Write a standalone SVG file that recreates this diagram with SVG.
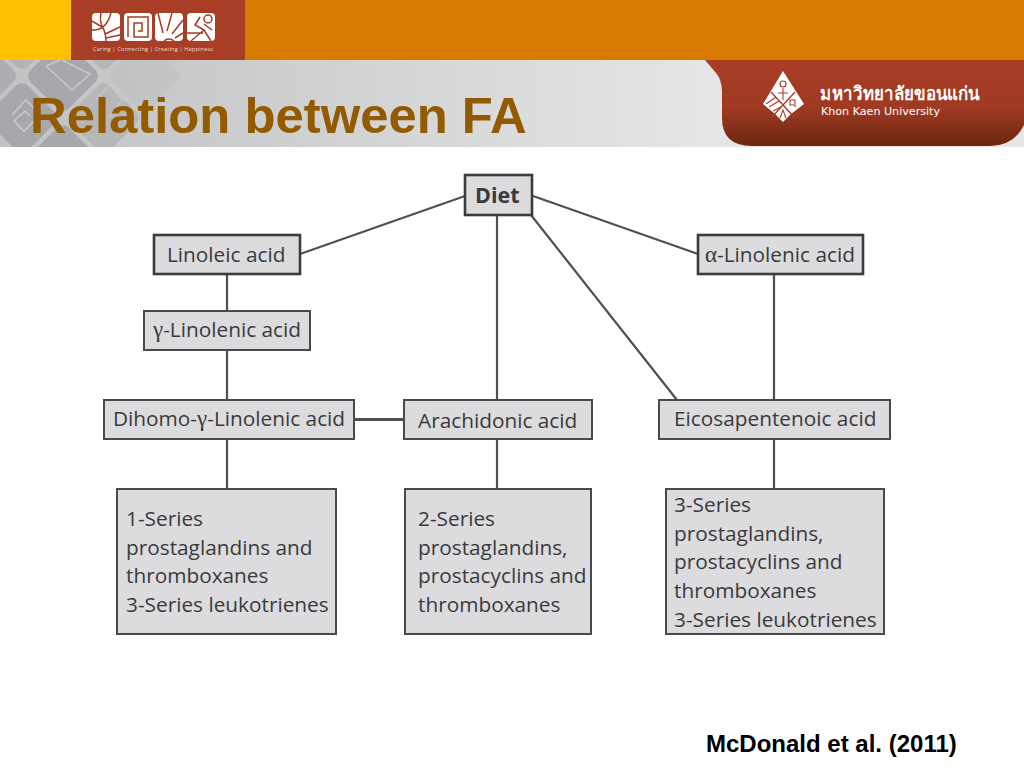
<svg xmlns="http://www.w3.org/2000/svg" width="1024" height="768" viewBox="0 0 1024 768">
<style>
.box{fill:#dcdcde;stroke:#4a4a4c;stroke-width:2}
.hv{stroke:#3c3c3e;stroke-width:2.6}
.lbl{font-family:"Open Sans","Noto Sans",sans-serif;font-size:20.8px;fill:#3a3a3c}
.gk{font-family:"Liberation Serif",serif;font-size:23px}
.c{stroke:#505052;stroke-width:2.2;fill:none}
.w{fill:#fff}
.r2{stroke:#a63c24;stroke-width:1.5;fill:none}
.tile{fill:#a6a8ab}
.p{stroke:#c8c9ca;stroke-width:1.6;fill:none}
</style>
<defs>
<linearGradient id="band" x1="0" x2="1" y1="0" y2="0"><stop offset="0" stop-color="#c0c2c3"/><stop offset=".2" stop-color="#cacbcc"/><stop offset=".7" stop-color="#e6e6e6"/><stop offset="1" stop-color="#e6e6e6"/></linearGradient>
<linearGradient id="tab" x1="0" x2="0" y1="0" y2="1"><stop offset="0" stop-color="#a83d26"/><stop offset=".55" stop-color="#a03a22"/><stop offset="1" stop-color="#6c2610"/></linearGradient>
<clipPath id="bandclip"><rect x="0" y="60" width="180" height="87"/></clipPath>
</defs>
<rect width="1024" height="768" fill="#fff"/>
<g id="header">
<rect x="0" y="0" width="1024" height="60" fill="#d67a00"/>
<rect x="0" y="0" width="71" height="60" fill="#ffc000"/>
<rect x="71" y="0" width="174" height="60" fill="#a83e25"/>
<rect x="0" y="60" width="1024" height="87" fill="url(#band)"/>
<g clip-path="url(#bandclip)">
<rect class="tile" x="-27" y="-27" width="54" height="54" rx="8" transform="translate(63 76) rotate(45)"/>
<rect class="tile" x="-27" y="-27" width="54" height="54" rx="8" transform="translate(22 118) rotate(45)"/>
<rect class="tile" x="-27" y="-27" width="54" height="54" rx="8" transform="translate(63 160) rotate(45)"/>
<rect class="tile" x="-27" y="-27" width="54" height="54" rx="8" transform="translate(-19 76) rotate(45)" opacity=".8"/>
<rect class="tile" x="-27" y="-27" width="54" height="54" rx="8" transform="translate(104 118) rotate(45)" opacity=".5"/>
<rect class="tile" x="-27" y="-27" width="54" height="54" rx="8" transform="translate(22 34) rotate(45)" opacity=".6"/>
<rect class="tile" x="-27" y="-27" width="54" height="54" rx="8" transform="translate(104 34) rotate(45)" opacity=".5"/>
<rect class="tile" x="-27" y="-27" width="54" height="54" rx="8" transform="translate(145 76) rotate(45)" opacity=".12"/>
<path class="p" d="M46 66L72 90L90 74L62 60M46 66L60 60"/>
<path class="p" d="M12 115L26 100L40 115L24 131L14 121L25 111L30 116"/>
<path class="p" d="M130 70L148 88L132 106M140 68L158 88L142 108" stroke-opacity=".6"/>
<path class="p" d="M96 100L110 84L122 100L108 118" stroke-opacity=".8"/>
</g>
<rect x="92" y="13" width="28" height="28" rx="4" class="w"/>
<rect x="124" y="13" width="28" height="28" rx="4" class="w"/>
<rect x="155" y="13" width="28" height="28" rx="4" class="w"/>
<rect x="187" y="13" width="28" height="28" rx="4" class="w"/>
<path class="r2" d="M92 30Q106 31 111 13M101 13Q99 22 104 30Q106 36 106 41M92 21L102 27M120 27L105 34M120 35L106 38"/>
<path class="r2" d="M128 37V17H148V37H134V23H142V31H138"/>
<path class="r2" d="M164 41A7 7 0 0 1 174 41M163 33L158 13M167 31L172 13M172 34L183 20M175 38L183 33"/>
<path class="r2" d="M187 33H203M191 41L204 30L195 25L200 17M204 30L211 41M204 24L212 30"/>
<circle cx="208" cy="19" r="4" fill="none" stroke="#a63c24" stroke-width="1.5"/>
<text x="93" y="51" font-family="'Open Sans',sans-serif" font-size="5.6" fill="#f3dcd4" textLength="120">Caring | Connecting | Creating | Happiness</text>
<path d="M705 60H1024V125Q1014 146 990 146H752Q722 146 722 118V92Q722 80 716 73Z" fill="url(#tab)"/>
<path d="M783 71L804 104L791 114L783 122L775 114L763 104Z" class="w"/>
<path d="M771 92L783 105L795 92M783 105L772 117M783 105L794 117" fill="none" stroke="#a63c24" stroke-width="1.4"/>
<circle cx="783" cy="84" r="3" fill="none" stroke="#a63c24" stroke-width="1.2"/>
<path d="M778 93H788M783 88V100M766 104L776 97M769 107L779 101M773 111L781 107M795 107V100H790V105H794M780 118L783 110L786 118" fill="none" stroke="#a63c24" stroke-width="1.1"/>
<text x="820" y="100" font-family="'Noto Sans','Noto Sans CJK SC',sans-serif" font-size="19" font-weight="700" fill="#fff" textLength="160" lengthAdjust="spacingAndGlyphs">มหาวิทยาลัยขอนแก่น</text>
<text x="821" y="115" font-family="'DejaVu Sans',sans-serif" font-size="11" fill="#fff" textLength="119" lengthAdjust="spacingAndGlyphs">Khon Kaen University</text>
</g>
<text id="title" x="30" y="133" font-family="'Liberation Sans',Arial,sans-serif" font-weight="700" font-size="50.8" fill="#935b00">Relation between FA</text>
<g id="connectors">
<path class="c" d="M465 196L300 254M533 196L698 254M497 215V400M531 215L677 400M227 274V311M227 350V400M227 439V489M497 439V489M774 274V400M774 439V489"/>
<path class="c" style="stroke-width:2.8" d="M354 419.500H404"/>
</g>
<g id="diet"><rect class="box hv" x="465" y="175" width="67" height="40"/><text x="475" y="203" class="lbl" style="font-size:21.5px" font-weight="700">Diet</text></g>
<g id="linoleic"><rect class="box hv" x="154" y="235" width="146" height="39"/><text x="167" y="262" class="lbl">Linoleic acid</text></g>
<g id="gamma"><rect class="box" x="144" y="311" width="166" height="39"/><text x="153" y="337" class="lbl"><tspan class="gk">γ</tspan>-Linolenic acid</text></g>
<g id="dihomo"><rect class="box" x="104" y="400" width="250" height="39"/><text x="113" y="426" class="lbl">Dihomo-<tspan class="gk">γ</tspan>-Linolenic acid</text></g>
<g id="arachidonic"><rect class="box" x="404" y="400" width="188" height="39"/><text x="418" y="428" class="lbl">Arachidonic acid</text></g>
<g id="alpha"><rect class="box hv" x="698" y="235" width="165" height="39"/><text x="705" y="262" class="lbl"><tspan class="gk">α</tspan>-Linolenic acid</text></g>
<g id="epa"><rect class="box" x="659" y="400" width="231" height="39"/><text x="674" y="426" class="lbl">Eicosapentenoic acid</text></g>
<g id="series1"><rect class="box" x="117" y="489" width="219" height="145"/><text class="lbl"><tspan x="126" y="526">1-Series</tspan><tspan x="126" y="555">prostaglandins and</tspan><tspan x="126" y="583">thromboxanes</tspan><tspan x="126" y="612">3-Series leukotrienes</tspan></text></g>
<g id="series2"><rect class="box" x="405" y="489" width="186" height="145"/><text class="lbl"><tspan x="418" y="526">2-Series</tspan><tspan x="418" y="555">prostaglandins,</tspan><tspan x="418" y="583">prostacyclins and</tspan><tspan x="418" y="612">thromboxanes</tspan></text></g>
<g id="series3"><rect class="box" x="666" y="489" width="218" height="145"/><text class="lbl"><tspan x="674" y="512">3-Series</tspan><tspan x="674" y="541">prostaglandins,</tspan><tspan x="674" y="569">prostacyclins and</tspan><tspan x="674" y="598">thromboxanes</tspan><tspan x="674" y="627">3-Series leukotrienes</tspan></text></g>
<text id="citation" x="706" y="752" font-family="'Liberation Sans',Arial,sans-serif" font-weight="700" font-size="24" fill="#000">McDonald et al. (2011)</text>
</svg>
